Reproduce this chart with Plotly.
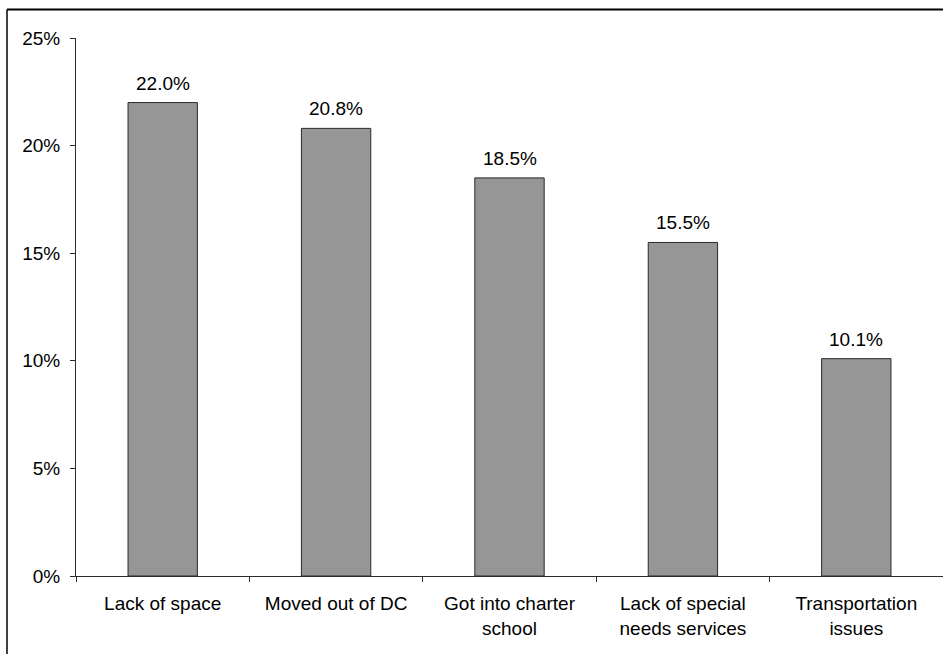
import plotly.graph_objects as go

categories = ["Lack of space", "Moved out of DC", "Got into charter<br>school",
              "Lack of special<br>needs services", "Transportation<br>issues"]
values = [22.0, 20.8, 18.5, 15.5, 10.1]
labels = ["22.0%", "20.8%", "18.5%", "15.5%", "10.1%"]
y_ticks = [0, 5, 10, 15, 20, 25]
y_tick_text = ["0%", "5%", "10%", "15%", "20%", "25%"]

font = dict(family="Liberation Sans, Arial, sans-serif", size=19, color="#000000")

fig = go.Figure(go.Bar(
    x=categories, y=values,
    marker=dict(color="#969696", line=dict(color="#2a2a2a", width=1)),
    hoverinfo="skip",
))

for c, v, t in zip(categories, values, labels):
    fig.add_annotation(x=c, y=v, text=t, showarrow=False, yanchor="bottom",
                       yshift=7, font=font)

W, H = 943, 654
ml, mr, mt, mb = 76, 0, 38, 78
pw, ph = W - ml - mr, H - mt - mb
bx = (7 - ml) / pw
by = 1 + (mt - 9.5) / ph

fig.add_shape(type="line", xref="paper", yref="paper", x0=bx, x1=1.1, y0=by, y1=by,
              line=dict(color="#000000", width=2))
fig.add_shape(type="line", xref="paper", yref="paper", x0=bx, x1=bx, y0=by, y1=-0.3,
              line=dict(color="#000000", width=1.5))

fig.update_layout(
    width=W, height=H,
    margin=dict(l=ml, r=mr, t=mt, b=mb, pad=0),
    paper_bgcolor="white", plot_bgcolor="white",
    font=font, bargap=0.6, showlegend=False,
    xaxis=dict(type="category", tickson="boundaries", ticks="outside", ticklen=5,
               tickcolor="#2a2a2a", showline=True, linecolor="#2a2a2a", linewidth=1,
               showgrid=False, zeroline=False, tickfont=font, ticklabelstandoff=10),
    yaxis=dict(range=[0, 25], tickvals=y_ticks, ticktext=y_tick_text, ticks="outside",
               ticklen=5, tickcolor="#2a2a2a", showline=True, linecolor="#2a2a2a",
               linewidth=1, showgrid=False, zeroline=False, tickfont=font,
               ticklabelstandoff=6),
)

fig.write_html("out.html")
